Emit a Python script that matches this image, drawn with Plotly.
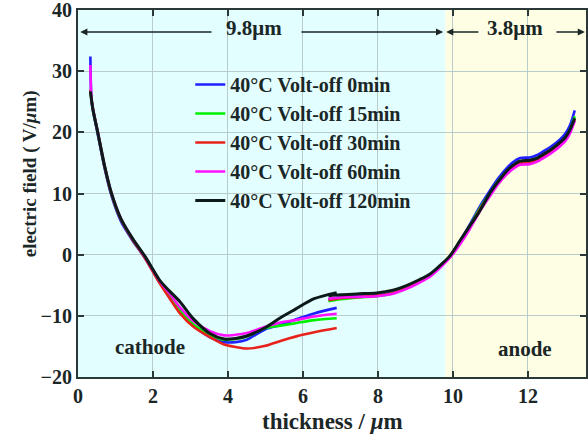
import plotly.graph_objects as go

# ---------------- data ----------------
series_names = ["40°C Volt-off 0min", "40°C Volt-off 15min", "40°C Volt-off 30min",
                "40°C Volt-off 60min", "40°C Volt-off 120min"]
series_colors = ["#1f1fff", "#00f000", "#e8221a", "#ff10ff", "#0d1a1a"]

# cathode-side segment
x_seg1 = [0.33, 0.36, 0.40, 0.53, 0.71, 0.89, 1.15, 1.47, 1.78, 2.18, 2.45, 2.72,
          3.08, 3.52, 3.9, 4.2, 4.5, 5.0, 5.4, 5.8, 6.3, 6.9]
y_0min_seg1 = [32.4, 25.2, 23.5, 19.6, 14.1, 9.7, 5.4, 2.2, -0.5, -4.5, -6.8, -9.0,
               -11.6, -13.5, -14.3, -14.3, -13.9, -12.2, -11.5, -10.6, -9.6, -8.7]
y_15min_seg1 = [27.0, 25.4, 23.7, 19.9, 14.4, 10.0, 5.7, 2.4, -0.3, -4.4, -6.7, -9.1,
                -11.4, -13.1, -13.9, -13.8, -13.4, -12.0, -11.6, -11.2, -10.7, -10.4]
y_30min_seg1 = [27.0, 25.4, 23.7, 19.9, 14.4, 10.0, 5.7, 2.3, -0.5, -4.7, -7.2, -9.6,
                -11.8, -13.5, -14.7, -15.1, -15.35, -14.9, -14.1, -13.4, -12.7, -12.0]
y_60min_seg1 = [31.0, 25.4, 23.8, 20.0, 14.5, 10.1, 5.8, 2.5, -0.3, -4.3, -6.4, -8.6,
                -10.9, -12.5, -13.2, -13.1, -12.8, -11.8, -11.1, -10.7, -10.1, -9.65]
y_120min_seg1 = [26.7, 25.3, 23.7, 19.9, 14.5, 10.1, 5.8, 2.5, -0.2, -4.2, -6.0, -7.7,
                 -10.5, -12.9, -13.8, -13.7, -13.3, -11.9, -10.3, -8.9, -7.2, -6.2]

# anode-side segment
x_seg2 = [6.68, 7.0, 7.5, 7.96, 8.4, 8.76, 9.1, 9.39, 9.65, 9.92, 10.2, 10.45, 10.7,
          10.99, 11.2, 11.43, 11.6, 11.79, 12.05, 12.25, 12.41, 12.6, 12.85, 13.0, 13.12, 13.25]
y_0min_seg2 = [-7.3, -7.0, -6.8, -6.6, -6.2, -5.4, -4.4, -3.4, -2.0, -0.3, 2.3, 4.9, 7.7,
               10.5, 12.4, 14.1, 15.1, 15.8, 15.9, 16.3, 16.9, 17.6, 18.8, 19.8, 21.1, 23.6]
y_15min_seg2 = [-7.6, -7.3, -7.0, -6.8, -6.3, -5.5, -4.4, -3.3, -1.9, -0.3, 2.2, 4.7, 7.4,
                10.1, 12.0, 13.6, 14.5, 15.2, 15.3, 15.7, 16.3, 17.0, 18.2, 19.1, 20.4, 22.6]
y_30min_seg2 = [-7.4, -7.1, -6.9, -6.7, -6.3, -5.5, -4.5, -3.4, -2.0, -0.4, 2.0, 4.5, 7.2,
                9.9, 11.8, 13.4, 14.3, 15.0, 15.1, 15.5, 16.1, 16.8, 18.0, 18.9, 20.1, 22.0]
y_60min_seg2 = [-7.2, -7.0, -6.9, -6.8, -6.4, -5.6, -4.6, -3.6, -2.2, -0.5, 1.8, 4.2, 6.9,
                9.6, 11.5, 13.1, 14.0, 14.7, 14.8, 15.2, 15.8, 16.5, 17.7, 18.6, 19.8, 21.9]
y_120min_seg2 = [-6.7, -6.55, -6.4, -6.25, -5.8, -5.05, -4.1, -3.15, -1.8, -0.2, 2.4, 4.7, 7.0,
                 10.1, 11.9, 13.65, 14.6, 15.3, 15.45, 15.8, 16.4, 17.1, 18.3, 19.2, 20.4, 22.3]

seg1 = [y_0min_seg1, y_15min_seg1, y_30min_seg1, y_60min_seg1, y_120min_seg1]
seg2 = [y_0min_seg2, y_15min_seg2, y_30min_seg2, y_60min_seg2, y_120min_seg2]

x_ticks = [0, 2, 4, 6, 8, 10, 12]
y_ticks = [-20, -10, 0, 10, 20, 30, 40]
cathode_width = 9.8
x_max = 13.55

# ---------------- figure ----------------
FONT = "Liberation Serif"
TXT = "#1b2626"
CYAN = "#e2fefe"
YELLOW = "#fefee4"

fig = go.Figure()
for name, col, a, b in zip(series_names, series_colors, seg1, seg2):
    fig.add_trace(go.Scatter(
        x=x_seg1 + [None] + x_seg2,
        y=a + [None] + b,
        mode="lines", name=name,
        line=dict(color=col, width=3 if col == "#0d1a1a" else 2.6,
                  shape="spline", smoothing=0.8),
        connectgaps=False,
    ))

shapes = [
    dict(type="rect", xref="x", yref="paper", x0=0, x1=cathode_width, y0=0, y1=1,
         fillcolor=CYAN, line=dict(width=0), layer="below"),
    dict(type="rect", xref="x", yref="paper", x0=cathode_width, x1=x_max, y0=0, y1=1,
         fillcolor=YELLOW, line=dict(width=0), layer="below"),
    dict(type="rect", xref="paper", yref="paper", x0=0.191, x1=0.7185, y0=0.455, y1=0.845,
         fillcolor=CYAN, line=dict(width=0), layer="between"),
]

ann_font = dict(family=FONT, size=21, color=TXT, weight="bold")
annotations = [
    dict(x=4.7, y=37.1, xref="x", yref="y", text="9.8μm", showarrow=False, font=ann_font),
    dict(x=11.65, y=37.1, xref="x", yref="y", text="3.8μm", showarrow=False, font=ann_font),
    dict(x=1.92, y=-15.1, xref="x", yref="y", text="cathode", showarrow=False, font=ann_font),
    dict(x=11.93, y=-15.4, xref="x", yref="y", text="anode", showarrow=False, font=ann_font),
    # axis titles
    dict(x=0.5, y=-0.1226, xref="paper", yref="paper", xanchor="center", yanchor="middle",
         text="thickness / <i>μ</i>m", showarrow=False,
         font=dict(family=FONT, size=23, color=TXT, weight="bold")),
    dict(x=-0.094, y=0.553, xref="paper", yref="paper", xanchor="center", yanchor="middle",
         text="electric field ( V/<i>μ</i>m)", textangle=-90, showarrow=False,
         font=dict(family=FONT, size=19, color=TXT, weight="bold")),
]
for tail, head in [(3.6, 0.06), (5.92, 9.74), (10.72, 9.82), (12.72, 13.52)]:
    annotations.append(dict(x=head, y=36.4, ax=tail, ay=36.4, xref="x", yref="y",
                            axref="x", ayref="y", text="", showarrow=True,
                            arrowhead=2, arrowsize=1.1, arrowwidth=1.3, arrowcolor=TXT))

axis_common = dict(showline=True, linewidth=2, linecolor="#2a3838", mirror="ticks",
                   ticks="inside", ticklen=6, tickwidth=2, tickcolor="#2a3838",
                   showgrid=True, gridcolor="#b9cccc", gridwidth=1, zeroline=False,
                   automargin=False, ticklabeloverflow="allow",
                   tickfont=dict(family=FONT, size=20, color=TXT, weight="bold"))

fig.update_layout(
    width=588, height=438,
    margin=dict(l=78, r=2, t=10, b=61),
    paper_bgcolor="white", plot_bgcolor="white",
    font=dict(family=FONT, color=TXT),
    shapes=shapes, annotations=annotations,
    xaxis=dict(range=[0, x_max], tickvals=x_ticks, **axis_common),
    yaxis=dict(range=[-20, 40], tickvals=y_ticks, **axis_common),
    legend=dict(x=0.221, y=0.850, xanchor="left", yanchor="top",
                bgcolor="rgba(0,0,0,0)", borderwidth=0, itemwidth=30,
                font=dict(family=FONT, size=20, color=TXT, weight="bold")),
    showlegend=True,
)

fig.write_html("out.html", config={"displayModeBar": False},
               post_script="document.body.style.margin='0px';")
